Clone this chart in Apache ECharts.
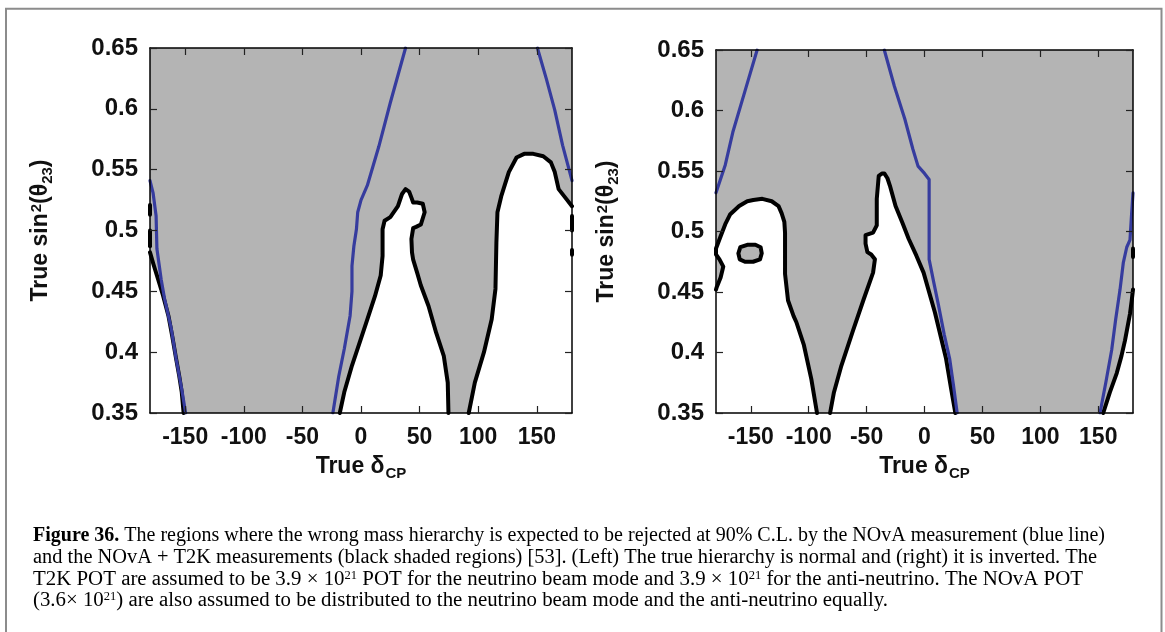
<!DOCTYPE html>
<html><head><meta charset="utf-8">
<script src="https://cdn.jsdelivr.net/npm/echarts@6/dist/echarts.min.js"></script>
<style>html,body{margin:0;padding:0;background:#fff}#c{width:1165px;height:632px}</style>
</head><body><div id="c"></div>
<script>
// ---------- axes ----------
const xRange = [-180, 180];
const yRange = [0.35, 0.65];
const xTickValues = [-150, -100, -50, 0, 50, 100, 150];
const yTickValues = [0.35, 0.4, 0.45, 0.5, 0.55, 0.6, 0.65];

// ---------- left panel: true hierarchy normal ----------
// white (not rejected) regions, bounded by black contours
const nhContourA = [[-180,0.482],[-177,0.472],[-174.1,0.463],[-169,0.447],[-164.3,0.43],[-161,0.413],[-157.8,0.395],[-155,0.38],[-152.9,0.367],[-151.3,0.35]];
const nhCloseA = [[-180,0.35]];
const nhContourB = [[-18.1,0.35],[-14.3,0.367],[-7.7,0.389],[-1.1,0.408],[5.4,0.427],[11.9,0.446],[16.8,0.463],[18.4,0.479],[18.4,0.501],[20.1,0.508],[25,0.511],[31.5,0.52],[35,0.53],[38,0.534],[41,0.532],[43,0.527],[44.5,0.523],[48,0.523],[52.7,0.522],[54.3,0.515],[51.1,0.505],[47,0.503],[44.5,0.502],[43,0.493],[43.5,0.482],[44.5,0.476],[48,0.465],[51,0.455],[57.6,0.438],[64.1,0.416],[70.6,0.397],[74,0.375],[74.6,0.35]];
const nhCloseB = [];
const nhContourC = [[91.9,0.35],[97.1,0.375],[104.9,0.4],[111.5,0.427],[114.7,0.452],[115.5,0.49],[116.4,0.515],[119.6,0.528],[126.1,0.548],[132.7,0.56],[139.2,0.563],[147,0.563],[155.5,0.561],[162,0.556],[165.3,0.548],[168.6,0.534],[175.1,0.526],[180,0.52]];
const nhCloseC = [[180,0.35]];
const nhEdgeMark1 = [[-180,0.521],[-180,0.513]];
const nhEdgeMark2 = [[-180,0.500],[-180,0.487]];
const nhEdgeMark3 = [[180,0.512],[180,0.500]];
const nhEdgeMark4 = [[180,0.484],[180,0.480]];
// NOvA (blue) lines
const nhBlueA = [[-180,0.541],[-177.4,0.531],[-174.8,0.512],[-174.1,0.485],[-170.5,0.46],[-167.6,0.444],[-162,0.42],[-157.8,0.395],[-153,0.37],[-149.6,0.35]];
const nhBlueB = [[-24,0.35],[-19,0.38],[-14.2,0.403],[-9.3,0.43],[-7.7,0.45],[-7.7,0.471],[-6.1,0.487],[-3.9,0.501],[-2.8,0.515],[0,0.525],[5.4,0.537],[15.2,0.569],[25,0.605],[38,0.65]];
const nhBlueC = [[150.5,0.65],[158,0.625],[165.3,0.599],[172,0.57],[180,0.541]];

// ---------- right panel: true hierarchy inverted ----------
const ihContourA = [[-180,0.452],[-179.4,0.454],[-176,0.462],[-173.7,0.471],[-177,0.477],[-180,0.481],[-180,0.486],[-176,0.496],[-172,0.506],[-167.9,0.514],[-160,0.521],[-153,0.525],[-147.8,0.526],[-140,0.527],[-131.9,0.525],[-126,0.521],[-123.3,0.515],[-121,0.508],[-120.4,0.499],[-120.4,0.48],[-120.4,0.465],[-117.8,0.443],[-113,0.43],[-110.6,0.425],[-104.1,0.406],[-97.7,0.378],[-92.8,0.35]];
const ihCloseA = [[-180,0.35]];
const ihIsland = [[-160.7,0.482],[-159,0.487],[-153,0.489],[-146,0.489],[-141.5,0.487],[-140.5,0.482],[-142,0.477],[-148,0.475],[-155,0.475],[-159.5,0.477],[-160.7,0.482]];
const ihContourB = [[-81.5,0.35],[-78.2,0.367],[-71.8,0.389],[-62.1,0.417],[-52.5,0.444],[-44.4,0.466],[-42.8,0.477],[-46,0.481],[-49.3,0.483],[-50.9,0.49],[-50.9,0.497],[-44.4,0.499],[-41.2,0.505],[-41.2,0.515],[-41.2,0.527],[-39.5,0.546],[-36.5,0.548],[-34.7,0.548],[-32,0.544],[-29.9,0.538],[-25,0.521],[-19,0.507],[-13.7,0.494],[-7,0.48],[-0.8,0.466],[9,0.433],[18.6,0.395],[23,0.37],[26.6,0.35]];
const ihCloseB = [];
const ihContourC = [[154.3,0.35],[160,0.367],[166,0.383],[170,0.397],[173.1,0.41],[177.4,0.432],[178.9,0.443],[180,0.452]];
const ihCloseC = [[180,0.35]];
const ihEdgeMark1 = [[180,0.486],[180,0.479]];
const ihBlueA = [[-180,0.532],[-172,0.555],[-165.5,0.582],[-155,0.616],[-144.5,0.65]];
const ihBlueB = [[-34.7,0.65],[-26,0.62],[-17,0.593],[-10,0.568],[-5.6,0.554],[0,0.548],[4,0.543],[4,0.521],[4,0.5],[4,0.477],[8,0.458],[12.1,0.439],[17,0.415],[21.7,0.395],[25,0.373],[28.2,0.35]];
const ihBlueC = [[151.5,0.35],[156.5,0.375],[161.6,0.402],[165,0.427],[168.8,0.452],[171.6,0.474],[174.6,0.487],[177.4,0.493],[178.5,0.51],[180,0.532]];

// ---------- caption ----------
const captionLines = [
  [['b','Figure 36.'],['n',' The regions where the wrong mass hierarchy is expected to be rejected at 90% C.L. by the NOvA measurement (blue line)']],
  [['n','and the NOvA + T2K measurements (black shaded regions) ['],['l','53'],['n','). (Left) The true hierarchy is normal and (right) it is inverted. The']],
  [['n','T2K POT are assumed to be 3.9 \u00d7 10'],['s','21'],['n',' POT for the neutrino beam mode and 3.9 \u00d7 10'],['s','21'],['n',' for the anti-neutrino. The NOvA POT']],
  [['n','(3.6\u00d7 10'],['s','21'],['n',') are also assumed to be distributed to the neutrino beam mode and the anti-neutrino equally.']]
];
captionLines[1][2][1] = ']. (Left) The true hierarchy is normal and (right) it is inverted. The';
const captionWidths = [1072, 1064, 1050, 855];

// ---------- styling ----------
const GRAY = '#b4b4b4';
const BLUE = '#363c9e';
const FONT = '"Liberation Sans", Arial, Helvetica, sans-serif';
const SERIF = '"Liberation Serif", "Times New Roman", serif';

function polygon(name, gi, pts, fill, z, stroke) {
  return {
    type: 'custom', name, xAxisIndex: gi * 2, yAxisIndex: gi * 2, data: pts, z, silent: true,
    renderItem(params, api) {
      if (params.dataIndexInside !== 0) return null;
      const p = [];
      for (let i = 0; i < params.dataInsideLength; i++) p.push(api.coord([api.value(0, i), api.value(1, i)]));
      return { type: 'polygon', shape: { points: p },
        style: stroke ? { fill, stroke, lineWidth: 4, lineJoin: 'round' } : { fill } };
    }
  };
}
function line(name, gi, pts, color, width, z, clip) {
  return { type: 'line', name, xAxisIndex: gi * 2, yAxisIndex: gi * 2, data: pts, showSymbol: false, symbol: 'none',
    silent: true, z, clip: clip !== false,
    lineStyle: { color, width, cap: 'round', join: 'round' } };
}

const xNameRich = {
  a: { fontFamily: FONT, fontWeight: 'bold', fontSize: 23, lineHeight: 23, verticalAlign: 'top', color: '#111' },
  b: { fontFamily: FONT, fontWeight: 'bold', fontSize: 15, lineHeight: 15, padding: [11, 0, 0, 1], verticalAlign: 'top', color: '#111' }
};
const yNameRich = {
  a: { fontFamily: FONT, fontWeight: 'bold', fontSize: 23, lineHeight: 23, verticalAlign: 'top', color: '#111' },
  p: { fontFamily: FONT, fontWeight: 'bold', fontSize: 15, lineHeight: 15, padding: [0, 0, 0, 1], verticalAlign: 'top', color: '#111' },
  b: { fontFamily: FONT, fontWeight: 'bold', fontSize: 15, lineHeight: 15, padding: [11, 0, 0, 0], verticalAlign: 'top', color: '#111' }
};

function axesFor(gi) {
  const lineS = { show: true, onZero: false, lineStyle: { color: '#000', width: 1.5 } };
  const tickX = { show: true, inside: true, length: 7, customValues: xTickValues, lineStyle: { color: '#222', width: 1.2 } };
  const tickY = { show: true, inside: true, length: 7, customValues: yTickValues, lineStyle: { color: '#222', width: 1.2 } };
  const xs = [
    { type: 'value', gridIndex: gi, min: xRange[0], max: xRange[1], position: 'bottom', z: 10,
      axisLine: lineS, axisTick: tickX, splitLine: { show: false },
      axisLabel: { customValues: xTickValues, margin: 13, fontFamily: FONT, fontWeight: 'bold', fontSize: 23, color: '#111' },
      name: '{a|True \u03b4}{b|CP}', nameLocation: 'middle', nameGap: 42, nameTextStyle: { rich: xNameRich } },
    { type: 'value', gridIndex: gi, min: xRange[0], max: xRange[1], position: 'top', z: 10,
      axisLine: lineS, axisTick: tickX, splitLine: { show: false }, axisLabel: { show: false } }
  ];
  const ys = [
    { type: 'value', gridIndex: gi, min: yRange[0], max: yRange[1], position: 'left', z: 10,
      axisLine: lineS, axisTick: tickY, splitLine: { show: false },
      axisLabel: { customValues: yTickValues, margin: 12, fontFamily: FONT, fontWeight: 'bold', fontSize: 24, color: '#111',
        formatter: v => String(+(+v).toFixed(2)) },
      name: '{a|True sin}{p|2}{a|(\u03b8}{b|23}{a|)}', nameLocation: 'middle', nameRotate: 90, nameGap: 98,
      nameTextStyle: { rich: yNameRich } },
    { type: 'value', gridIndex: gi, min: yRange[0], max: yRange[1], position: 'right', z: 10,
      axisLine: lineS, axisTick: tickY, splitLine: { show: false }, axisLabel: { show: false } }
  ];
  return { xs, ys };
}
const a0 = axesFor(0), a1 = axesFor(1);

// caption graphics
const capStyle = {
  n: { fontFamily: SERIF, fontSize: 20, lineHeight: 22, verticalAlign: 'top', color: '#231f20' },
  b: { fontFamily: SERIF, fontSize: 20, fontWeight: 'bold', lineHeight: 22, verticalAlign: 'top', color: '#231f20' },
  l: { fontFamily: SERIF, fontSize: 20, lineHeight: 22, verticalAlign: 'top', color: '#2e7fba' },
  s: { fontFamily: SERIF, fontSize: 12, lineHeight: 12, verticalAlign: 'top', color: '#231f20' }
};
const mctx = document.createElement('canvas').getContext('2d');
function segWidth(k, t) {
  const s = capStyle[k];
  mctx.font = (s.fontWeight ? 'bold ' : '') + s.fontSize + 'px ' + s.fontFamily;
  return mctx.measureText(t).width;
}
const captionGraphics = captionLines.map((segs, i) => {
  const w = segs.reduce((acc, [k, t]) => acc + segWidth(k, t), 0);
  return { type: 'text', x: 33, y: 526 + i * 21.7, scaleX: captionWidths[i] / w, silent: true,
    style: { text: segs.map(([k, t]) => '{' + k + '|' + t + '}').join(''), rich: capStyle, verticalAlign: 'top', align: 'left' } };
});

const chart = echarts.init(document.getElementById('c'), null, { renderer: 'canvas' });
chart.setOption({
  animation: false,
  backgroundColor: '#fff',
  grid: [
    { left: 150, top: 48, width: 422, height: 365, show: true, backgroundColor: GRAY, borderWidth: 0 },
    { left: 716, top: 50, width: 417, height: 363, show: true, backgroundColor: GRAY, borderWidth: 0 }
  ],
  xAxis: [...a0.xs, ...a1.xs],
  yAxis: [...a0.ys, ...a1.ys],
  series: [
    polygon('nhWhiteA', 0, nhContourA.concat(nhCloseA), '#fff', 1),
    polygon('nhWhiteB', 0, nhContourB.concat(nhCloseB), '#fff', 1),
    polygon('nhWhiteC', 0, nhContourC.concat(nhCloseC), '#fff', 1),
    line('nhContourA', 0, nhContourA, '#000', 4, 3),
    line('nhContourB', 0, nhContourB, '#000', 4, 3),
    line('nhContourC', 0, nhContourC, '#000', 4, 3),
    line('nhEdge1', 0, nhEdgeMark1, '#000', 4, 3, false),
    line('nhEdge2', 0, nhEdgeMark2, '#000', 4, 3, false),
    line('nhEdge3', 0, nhEdgeMark3, '#000', 4, 3, false),
    line('nhEdge4', 0, nhEdgeMark4, '#000', 4, 3, false),
    line('nhBlueA', 0, nhBlueA, BLUE, 3.2, 4),
    line('nhBlueB', 0, nhBlueB, BLUE, 3.2, 4),
    line('nhBlueC', 0, nhBlueC, BLUE, 3.2, 4),

    polygon('ihWhiteA', 1, ihCloseA.concat(ihContourA), '#fff', 1),
    polygon('ihWhiteB', 1, ihContourB.concat(ihCloseB), '#fff', 1),
    polygon('ihWhiteC', 1, ihContourC.concat(ihCloseC), '#fff', 1),
    polygon('ihIsland', 1, ihIsland, GRAY, 2, '#000'),
    line('ihContourA', 1, ihContourA, '#000', 4, 3),
    line('ihContourB', 1, ihContourB, '#000', 4, 3),
    line('ihContourC', 1, ihContourC, '#000', 4, 3),
    line('ihEdge1', 1, ihEdgeMark1, '#000', 4, 3, false),
    line('ihBlueA', 1, ihBlueA, BLUE, 3.2, 4),
    line('ihBlueB', 1, ihBlueB, BLUE, 3.2, 4),
    line('ihBlueC', 1, ihBlueC, BLUE, 3.2, 4)
  ],
  graphic: [
    { type: 'rect', silent: true, shape: { x: 6, y: 8.7, width: 1155.5, height: 700 },
      style: { fill: 'none', stroke: '#8c8c8c', lineWidth: 2 } },
    ...captionGraphics
  ]
});
</script></body></html>
